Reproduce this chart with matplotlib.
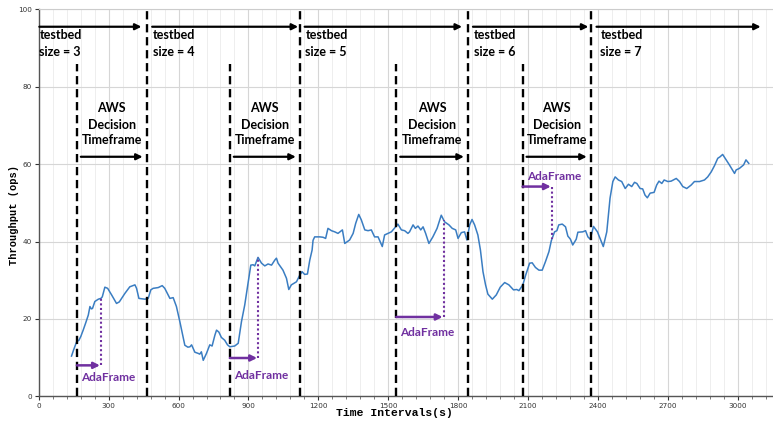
import numpy as np
import matplotlib
matplotlib.use("Agg")
import matplotlib.pyplot as plt
from matplotlib.ticker import MultipleLocator

# Throughput trace (seconds, ops)
time_s = [141, 150, 163, 173, 181, 191, 202, 213, 220, 226, 231, 241, 256, 267, 273, 284, 296,
          313, 334, 346, 370, 391, 413, 420, 430, 456, 470, 481, 491, 513, 530, 541, 563, 577,
          591, 606, 627, 640, 649, 656, 670, 684, 691, 698, 706, 720, 734, 744, 756, 763, 773,
          784, 798, 810, 820, 841, 856, 870, 884, 898, 910, 920, 927, 941, 956, 970, 984, 999,
          1013, 1020, 1027, 1048, 1063, 1073, 1084, 1106, 1120, 1130, 1141, 1153, 1163, 1173,
          1177, 1184, 1206, 1220, 1231, 1241, 1256, 1270, 1284, 1303, 1313, 1334, 1349, 1360,
          1373, 1384, 1399, 1413, 1427, 1441, 1456, 1474, 1484, 1499, 1513, 1531, 1541, 1556,
          1570, 1584, 1591, 1606, 1616, 1627, 1639, 1649, 1660, 1674, 1691, 1709, 1727, 1741,
          1760, 1774, 1789, 1799, 1813, 1827, 1837, 1849, 1859, 1870, 1884, 1895, 1906, 1917,
          1927, 1946, 1963, 1980, 1999, 2017, 2037, 2051, 2060, 2077, 2089, 2106, 2117, 2131,
          2146, 2160, 2174, 2189, 2199, 2213, 2223, 2231, 2246, 2260, 2270, 2281, 2291, 2306,
          2313, 2334, 2346, 2356, 2366, 2380, 2397, 2410, 2422, 2437, 2451, 2463, 2473, 2487,
          2501, 2516, 2530, 2544, 2556, 2566, 2580, 2591, 2601, 2611, 2623, 2640, 2651, 2661,
          2673, 2683, 2699, 2713, 2735, 2749, 2763, 2780, 2799, 2813, 2835, 2856, 2870, 2885,
          2899, 2913, 2923, 2934, 2949, 2963, 2985, 2992, 3006, 3024, 3034, 3046]
throughput = [10.4, 12.0, 14.1, 14.5, 15.5, 17.1, 19.0, 21.0, 23.2, 22.6, 22.7, 24.5, 25.1, 25.3,
              25.7, 28.2, 27.9, 26.2, 24.0, 24.4, 26.6, 28.3, 28.8, 27.9, 25.3, 25.1, 25.3, 27.5,
              27.9, 28.1, 28.6, 27.9, 25.3, 25.5, 23.2, 19.2, 13.2, 12.7, 12.8, 13.3, 11.4, 11.1,
              10.9, 11.5, 9.3, 11.1, 13.3, 13.0, 15.8, 17.1, 16.6, 15.2, 14.5, 13.3, 12.8, 13.0,
              13.7, 19.3, 23.6, 29.2, 33.9, 34.0, 33.7, 35.9, 34.4, 33.7, 34.2, 33.9, 35.2, 35.7,
              34.4, 32.6, 30.5, 27.6, 28.8, 29.6, 31.3, 32.2, 31.5, 31.6, 35.2, 37.8, 40.3, 41.2,
              41.2, 41.1, 40.8, 43.4, 42.8, 42.5, 42.1, 43.0, 39.5, 40.4, 42.1, 44.7, 47.0, 45.6,
              43.0, 42.8, 43.0, 41.2, 41.2, 38.7, 41.7, 42.1, 42.5, 43.8, 44.5, 43.0, 42.8, 42.1,
              42.5, 44.3, 43.4, 44.0, 43.0, 43.8, 42.1, 39.5, 41.2, 43.4, 46.8, 45.1, 44.3, 43.4,
              43.0, 40.8, 42.3, 42.5, 40.4, 44.3, 45.7, 44.3, 41.7, 37.8, 32.2, 28.8, 26.4, 25.1,
              26.2, 28.2, 29.4, 28.8, 27.5, 27.6, 27.3, 28.8, 31.3, 34.4, 34.5, 33.3, 32.6, 32.6,
              34.8, 37.4, 40.2, 42.5, 42.8, 44.3, 44.5, 43.8, 41.4, 40.6, 39.1, 40.6, 42.4, 42.5,
              42.8, 41.2, 40.6, 43.9, 42.5, 40.5, 38.7, 42.5, 51.2, 55.5, 56.7, 55.9, 55.5, 53.7,
              54.8, 54.2, 55.3, 55.0, 53.7, 53.6, 52.0, 51.3, 52.5, 52.7, 54.6, 55.6, 55.0, 55.9,
              55.5, 55.6, 56.3, 55.5, 54.2, 53.7, 54.6, 55.5, 55.5, 55.9, 56.7, 58.0, 59.6, 61.5,
              61.9, 62.5, 61.1, 59.8, 57.6, 58.5, 58.9, 59.8, 61.1, 60.2]

# Testbed resize events and the start of each AWS decision window
resize_times = [463, 1120, 1841, 2368]
decision_starts = [164, 820, 1534, 2076]
testbed_sizes = [3, 4, 5, 6, 7]
testbed_label_x = [3, 491, 1144, 1866, 2409]
testbed_arrow_x = [(3, 441), (487, 1113), (1141, 1816), (1863, 2358), (2393, 3097)]

# AdaFrame decision points
adaframe_times = [267, 941, 1737, 2201]
adaframe_arrow_y = [8.0, 9.9, 20.5, 54.2]
adaframe_label_y = [4.8, 5.4, 16.6, 56.7]

x_ticks = [0, 300, 600, 900, 1200, 1500, 1800, 2100, 2400, 2700, 3000]
y_ticks = [0, 20, 40, 60, 80, 100]

ANNOT_FONT = ["Lato", "DejaVu Sans"]
MONO_FONT = ["Liberation Mono", "DejaVu Sans Mono"]
PURPLE = "#7030A0"

fig = plt.figure(figsize=(7.73, 4.24), dpi=100)
ax = fig.add_axes([0.050, 0.0653, 0.950, 0.9127])

ax.set_xlim(0, 3150)
ax.set_ylim(0, 100)
ax.set_xticks(x_ticks)
ax.set_yticks(y_ticks)
ax.xaxis.set_minor_locator(MultipleLocator(60))
ax.grid(which="major", axis="both", color="#d6d6d6", lw=0.8)
ax.grid(which="minor", axis="x", color="#ebebeb", lw=0.6)
ax.set_axisbelow(True)
ax.tick_params(axis="both", which="major", labelsize=5.2, colors="#333333", length=3, width=0.8,
               pad=2)
ax.tick_params(axis="x", which="minor", length=2, width=0.6, color="#666666")
for side in ("left", "bottom"):
    ax.spines[side].set_color("#555555")
    ax.spines[side].set_linewidth(1.0)
ax.spines["right"].set_visible(False)
ax.spines["top"].set_color("#cccccc")
ax.spines["top"].set_linewidth(0.8)

ax.set_xlabel("Time Intervals(s)", family=MONO_FONT, fontweight="bold", fontsize=8.2)
ax.xaxis.set_label_coords(0.485, -0.030)
ax.set_ylabel("Throughput (ops)", family=MONO_FONT, fontweight="bold", fontsize=7.5)
ax.yaxis.set_label_coords(-0.027, 0.468)

ax.plot(time_s, throughput, color="#3a7dc2", lw=1.1, zorder=3)

dash = (0, (3.5, 2.0))
for t in resize_times:
    ax.plot([t, t], [0, 100], color="black", lw=1.7, linestyle=dash, zorder=4, clip_on=False)
for t in decision_starts:
    ax.plot([t, t], [0, 86], color="black", lw=1.7, linestyle=dash, zorder=4)


def arrow(x0, x1, y, color, lw=1.6):
    ax.annotate("", xy=(x1, y), xytext=(x0, y),
                arrowprops=dict(arrowstyle="-|>", color=color, lw=lw, mutation_scale=9,
                                shrinkA=0, shrinkB=0), zorder=5)


# Testbed size spans along the top
for (x0, x1), lx, size in zip(testbed_arrow_x, testbed_label_x, testbed_sizes):
    arrow(x0, x1, 95.5, "black")
    ax.text(lx, 93.4, "testbed", family=ANNOT_FONT, fontweight="bold", fontsize=9,
            ha="left", va="center", zorder=6)
    ax.text(lx, 89.1, f"size = {size}", family=ANNOT_FONT, fontweight="bold", fontsize=9,
            ha="left", va="center", zorder=6)

# AWS decision windows
for start, end in zip(decision_starts, resize_times):
    cx = (start + end) / 2
    for line, ly in zip(["AWS", "Decision", "Timeframe"], [74.4, 70.2, 66.2]):
        ax.text(cx, ly, line, family=ANNOT_FONT, fontweight="bold", fontsize=9,
                ha="center", va="center", zorder=6)
    arrow(start + 17, end - 17, 61.9, "black")

# AdaFrame decisions: arrow from the window start, dotted drop to the trace
for start, t, ay, ly in zip(decision_starts, adaframe_times, adaframe_arrow_y, adaframe_label_y):
    arrow(start, t - 4, ay, PURPLE, lw=1.8)
    level = np.interp(t, time_s, throughput)
    ax.plot([t, t], [ay, level], color=PURPLE, lw=1.5, linestyle=(0, (1, 1.2)), zorder=5)
    ax.text(start + 18, ly, "AdaFrame", family=ANNOT_FONT, fontweight="bold", fontsize=8.5,
            color=PURPLE, ha="left", va="center", zorder=6)

fig.savefig("out.png", dpi=100)
